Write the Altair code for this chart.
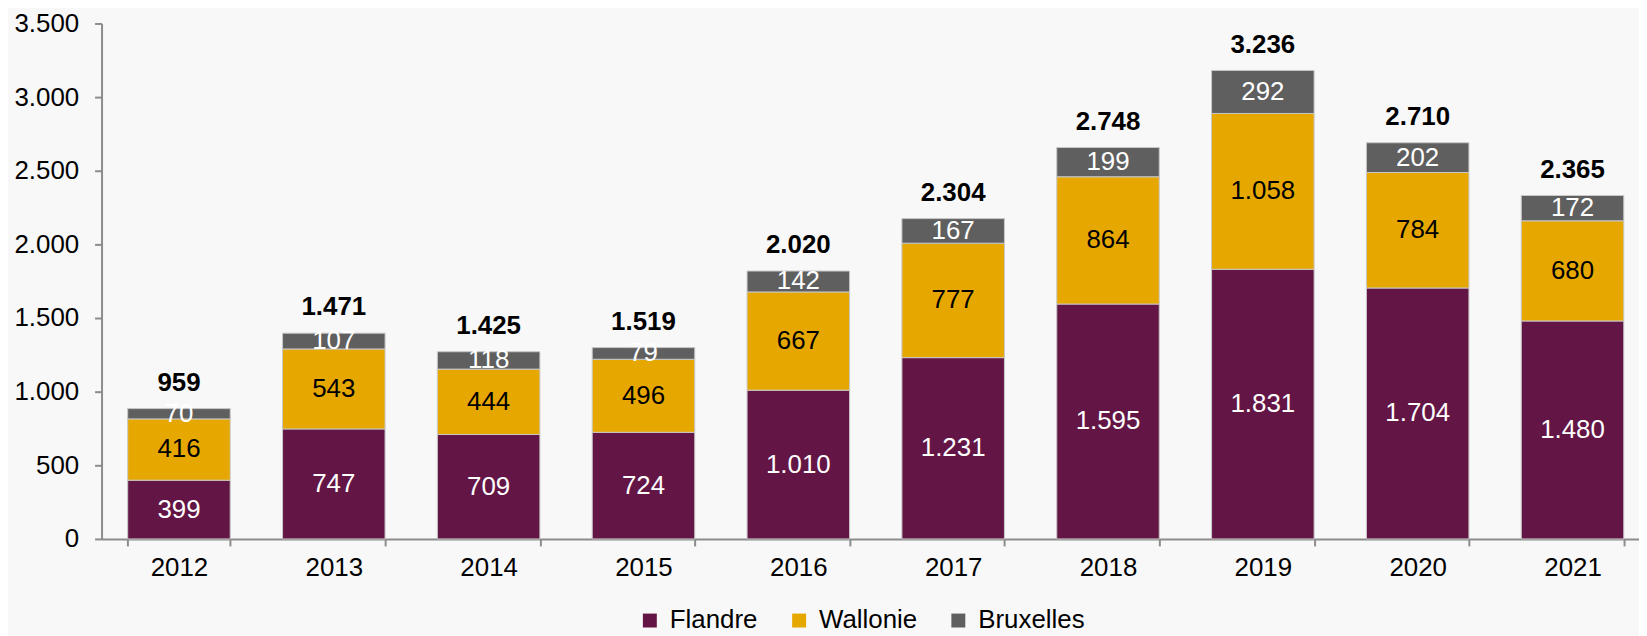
import altair as alt
import pandas as pd

years = ["2012", "2013", "2014", "2015", "2016", "2017", "2018", "2019", "2020", "2021"]
flandre = [399, 747, 709, 724, 1010, 1231, 1595, 1831, 1704, 1480]
wallonie = [416, 543, 444, 496, 667, 777, 864, 1058, 784, 680]
bruxelles = [70, 107, 118, 79, 142, 167, 199, 292, 202, 172]
totals = [959, 1471, 1425, 1519, 2020, 2304, 2748, 3236, 2710, 2365]
regions = ["Flandre", "Wallonie", "Bruxelles"]
colors = ["#631645", "#E6A800", "#5F5F5F"]
y_ticks = [0, 500, 1000, 1500, 2000, 2500, 3000, 3500]


def fmt(v):
    return f"{v:,}".replace(",", ".")


rows = []
for i, y in enumerate(years):
    for k, (r, vals) in enumerate(zip(regions, [flandre, wallonie, bruxelles])):
        rows.append({"year": y, "region": r, "ord": k, "value": vals[i],
                     "label": fmt(vals[i]), "total_label": fmt(totals[i])})
df = pd.DataFrame(rows)

FONT = "Liberation Sans"

base = alt.Chart(df).transform_stack(
    stack="value", groupby=["year"], as_=["v0", "v1"], sort=[alt.SortField("ord")]
).transform_calculate(mid="(datum.v0 + datum.v1) / 2")

x = alt.X("year:N", title=None,
          scale=alt.Scale(range=[0, 1556], paddingInner=0.338, paddingOuter=0.169),
          axis=alt.Axis(labelAngle=0, tickBand="extent", tickSize=7, labelPadding=9,
                        labelFontSize=26, labelFont=FONT, labelColor="black",
                        domainColor="#8C8C8C", tickColor="#8C8C8C",
                        domainWidth=2, tickWidth=2))

yscale = alt.Scale(domain=[0, 3500], nice=False)

bars = base.mark_bar(stroke="#C8C8C8", strokeWidth=1).encode(
    x=x,
    y=alt.Y("v0:Q", title=None, scale=yscale,
            axis=alt.Axis(values=y_ticks, grid=False, tickSize=7, labelPadding=16,
                          labelFontSize=26, labelFont=FONT, labelColor="black",
                          domainColor="#8C8C8C", tickColor="#8C8C8C",
                          domainWidth=2, tickWidth=2,
                          labelExpr="replace(format(datum.value, ','), ',', '.')")),
    y2="v1:Q",
    color=alt.Color("region:N", title=None,
                    scale=alt.Scale(domain=regions, range=colors),
                    legend=alt.Legend(orient="none", legendX=538, legendY=587,
                                      direction="horizontal", symbolType="square",
                                      symbolSize=196, symbolStrokeWidth=0,
                                      labelFontSize=26, labelFont=FONT, labelColor="black",
                                      labelOffset=7, columnPadding=28, padding=0)),
    order=alt.Order("ord:Q"),
)

seg_text = base.mark_text(font=FONT, fontSize=26, baseline="middle").encode(
    x=x,
    y=alt.Y("mid:Q", scale=yscale),
    text="label:N",
    color=alt.condition(alt.datum.region == "Wallonie", alt.value("black"), alt.value("white")),
)

tot_text = alt.Chart(df).transform_aggregate(
    top="sum(value)", groupby=["year", "total_label"]
).mark_text(font=FONT, fontSize=26, fontWeight="bold", baseline="alphabetic", dy=-18,
            color="black").encode(
    x=x,
    y=alt.Y("top:Q", scale=yscale),
    text="total_label:N",
)

chart = alt.layer(bars, seg_text, tot_text).properties(
    width=1545, height=518,
    autosize=alt.AutoSizeParams(type="none"),
    padding={"left": 94, "top": 14, "right": 0, "bottom": 96},
    background="#F8F8F8",
).configure_view(stroke=None)

chart.save("out.html", embed_options={"renderer": "svg", "actions": False})
